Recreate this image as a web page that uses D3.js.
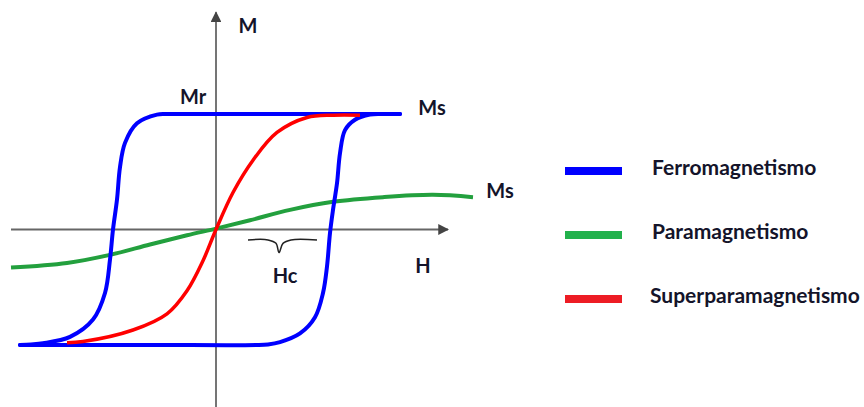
<!DOCTYPE html>
<html>
<head>
<meta charset="utf-8">
<script src="https://cdn.jsdelivr.net/npm/d3@7"></script>
<style>
  html, body { margin: 0; padding: 0; background: #fff; }
  svg text { font-family: Lato, "Liberation Sans", sans-serif; font-weight: bold; fill: #14142a; }
</style>
</head>
<body>
<div id="chart"></div>
<script>
// curves, as [H, M] with Ms = 1
var ferroDown = [[1.84, 1.00], [0.84, 1.00], [-0.36, 1.00], [-0.50, 1.00], [-0.59, 0.995],
  [-0.79, 0.92], [-0.91, 0.75], [-0.96, 0.54], [-0.99, 0.26], [-1.03, 0.00],
  [-1.06, -0.26], [-1.11, -0.55], [-1.23, -0.78], [-1.46, -0.93], [-1.73, -0.985],
  [-1.85, -0.995], [-1.96, -1.00]];
var ferroUp = [[-1.96, -1.00], [-0.66, -1.00], [0.40, -1.00], [0.52, -0.995], [0.64, -0.975],
  [0.84, -0.90], [0.99, -0.76], [1.07, -0.55], [1.11, -0.32], [1.14, -0.03],
  [1.17, 0.17], [1.21, 0.40], [1.24, 0.66], [1.29, 0.86], [1.39, 0.95], [1.54, 0.995],
  [1.66, 1.00], [1.84, 1.00]];
var superpara = [[-1.49, -0.98], [-1.33, -0.97], [-0.83, -0.87], [-0.49, -0.73], [-0.29, -0.53],
  [-0.13, -0.27], [0, 0], [0.17, 0.32], [0.37, 0.60], [0.61, 0.84], [0.91, 0.97],
  [1.17, 0.99], [1.44, 0.99]];
var para = [[-2.05, -0.33], [-1.49, -0.29], [-1.06, -0.22], [-0.66, -0.13], [-0.29, -0.05],
  [0.01, 0.01], [0.34, 0.08], [0.74, 0.17], [1.17, 0.24], [1.67, 0.28], [2.17, 0.30], [2.57, 0.28]];

var hAxis = [-2.05, 2.32];
var mAxis = [-1.54, 1.88];
var hcBrace = [[0.32, -0.09], [0.52, -0.09], [0.60, -0.12], [0.63, -0.2], [0.67, -0.12],
  [0.75, -0.09], [1.01, -0.09]];

var legendNames = ["Ferromagnetismo", "Paramagnetismo", "Superparamagnetismo"];
var legendColors = ["#0000ff", "#22b14c", "#ed1c24"];

var width = 864, height = 407;

var x = d3.scaleLinear().domain([-2.05, 2.32]).range([11, 448]);
var y = d3.scaleLinear().domain([-1, 1]).range([345, 114]);

var svg = d3.select("#chart").append("svg")
  .attr("width", width)
  .attr("height", height);

var defs = svg.append("defs");
defs.append("marker")
  .attr("id", "arrow")
  .attr("viewBox", "0 0 10 10")
  .attr("refX", 9).attr("refY", 5)
  .attr("markerWidth", 6).attr("markerHeight", 6)
  .attr("markerUnits", "strokeWidth")
  .attr("orient", "auto")
  .append("path")
  .attr("d", "M0,0 L10,5 L0,10 z")
  .attr("fill", "#444");

// axes
svg.append("line")
  .attr("x1", x(hAxis[0])).attr("x2", x(hAxis[1]))
  .attr("y1", y(0)).attr("y2", y(0))
  .attr("stroke", "#666").attr("stroke-width", 1.8)
  .attr("marker-end", "url(#arrow)");

svg.append("line")
  .attr("x1", x(0)).attr("x2", x(0))
  .attr("y1", y(mAxis[0])).attr("y2", y(mAxis[1]))
  .attr("stroke", "#666").attr("stroke-width", 1.8)
  .attr("marker-end", "url(#arrow)");

var line = d3.line()
  .x(function (d) { return x(d[0]); })
  .y(function (d) { return y(d[1]); })
  .curve(d3.curveCatmullRom.alpha(0.5));

svg.append("path")
  .attr("d", line(para))
  .attr("fill", "none")
  .attr("stroke", "#23a03e")
  .attr("stroke-width", 4);

[ferroDown, ferroUp].forEach(function (branch) {
  svg.append("path")
    .attr("d", line(branch))
    .attr("fill", "none")
    .attr("stroke", "#0000ff")
    .attr("stroke-width", 4)
    .attr("stroke-linecap", "round");
});

svg.append("path")
  .attr("d", line(superpara))
  .attr("fill", "none")
  .attr("stroke", "#ff0000")
  .attr("stroke-width", 3.5);

svg.append("path")
  .attr("d", line(hcBrace))
  .attr("fill", "none")
  .attr("stroke", "#222")
  .attr("stroke-width", 1.5);

// labels
var labels = [
  { t: "M", h: 0.32, m: 1.77 },
  { t: "Mr", h: -0.23, m: 1.16 },
  { t: "Ms", h: 2.16, m: 1.06 },
  { t: "Ms", h: 2.84, m: 0.34 },
  { t: "H", h: 2.07, m: -0.31 },
  { t: "Hc", h: 0.69, m: -0.39 }
];

svg.selectAll(".lbl")
  .data(labels)
  .enter().append("text")
  .attr("class", "lbl")
  .attr("x", function (d) { return x(d.h); })
  .attr("y", function (d) { return y(d.m); })
  .attr("text-anchor", "middle")
  .attr("dominant-baseline", "central")
  .style("font-size", "20px")
  .text(function (d) { return d.t; });

// legend
var legend = d3.scaleBand().domain(legendNames).range([139, 331]);

var lg = svg.selectAll(".legend")
  .data(legendNames)
  .enter().append("g")
  .attr("class", "legend")
  .attr("transform", function (d) {
    return "translate(565," + (legend(d) + legend.bandwidth() / 2) + ")";
  });

lg.append("rect")
  .attr("x", 0).attr("y", -4)
  .attr("width", 57).attr("height", 8)
  .attr("fill", function (d, i) { return legendColors[i]; });

lg.append("text")
  .attr("x", function (d, i) { return i === 2 ? 85 : 87; })
  .attr("y", 4)
  .style("font-size", "21px")
  .text(function (d) { return d; });
</script>
</body>
</html>
